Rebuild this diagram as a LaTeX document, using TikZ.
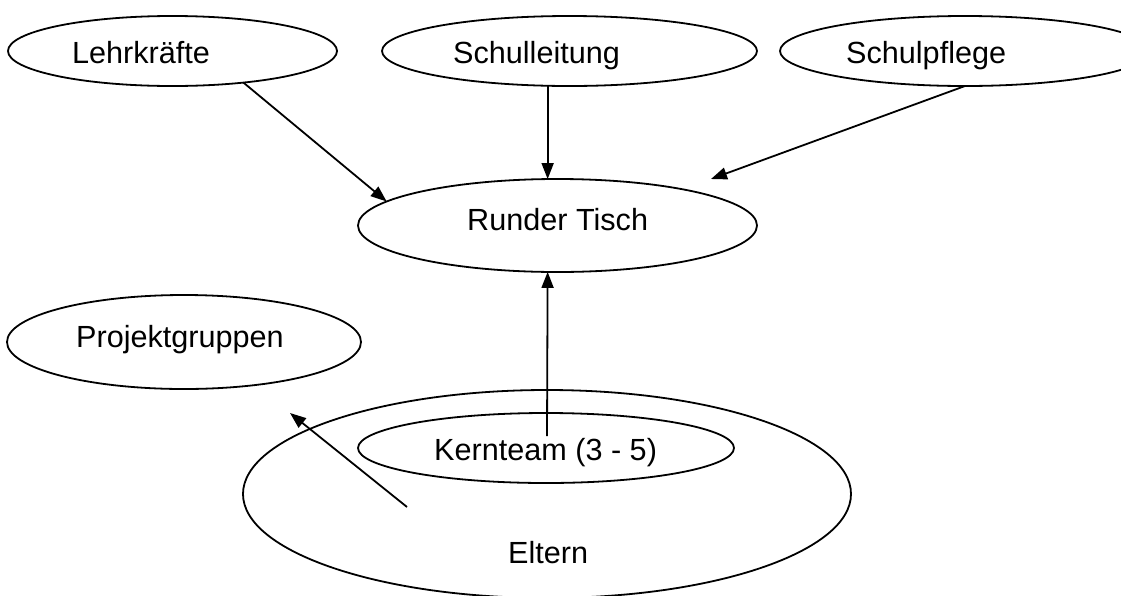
\documentclass[tikz,border=0pt]{standalone}
\usepackage{fontspec}
\setmainfont{Liberation Sans}
\usetikzlibrary{shapes.geometric,arrows.meta}
\tikzset{
  ell/.style={draw, ellipse, line width=1.8pt, inner sep=0pt, outer sep=0pt},
  lab/.style={anchor=base west, inner sep=0pt, font=\fontsize{30.6}{36}\selectfont},
  arr/.style={line width=1.8pt, -{Triangle[length=16pt,width=12pt]}}
}
\begin{document}
\begin{tikzpicture}[x=1pt,y=-1pt]
\clip (0,0) rectangle (1121,595);
% ellipses
\node[ell, minimum width=329pt, minimum height=70pt] (lk) at (172.5,51) {};
\node[ell, minimum width=375pt, minimum height=70pt] (sl) at (569.5,51) {};
\node[ell, minimum width=370pt, minimum height=70pt] (sp) at (965,51) {};
\node[ell, minimum width=399pt, minimum height=93pt] (rt) at (557.5,225.5) {};
\node[ell, minimum width=354pt, minimum height=94pt] (pg) at (184,342) {};
\node[ell, minimum width=608pt, minimum height=208pt] (el) at (547,494) {};
\node[ell, minimum width=376pt, minimum height=70pt] (kt) at (546,448) {};
% texts
\node[lab] (tlk) at (72,63) {Lehrkräfte};
\node[lab] (tsl) at (453,63) {Schulleitung};
\node[lab] (tsp) at (846,63) {Schulpflege};
\node[lab] (trt) at (467,230) {Runder Tisch};
\node[lab] (tpg) at (76,347) {Projektgruppen};
\node[lab] (tkt) at (434,460) {Kernteam (3 - 5)};
\node[lab] (tel) at (508,563) {Eltern};
% free connector ends
\coordinate (spend) at (711,179);
\coordinate (ktstart) at (547,436);
\coordinate (elstart) at (407,507);
\coordinate (pgend) at (290,413);
% connectors
\draw[arr] (lk.-24) -- (rt.172);
\draw[arr] (sl.south -| rt.102) -- (rt.102);
\draw[arr] (sp.south) -- (spend);
\draw[arr] (ktstart) -- (rt.-102);
\draw[arr] (elstart) -- (pgend);
\end{tikzpicture}
\end{document}
